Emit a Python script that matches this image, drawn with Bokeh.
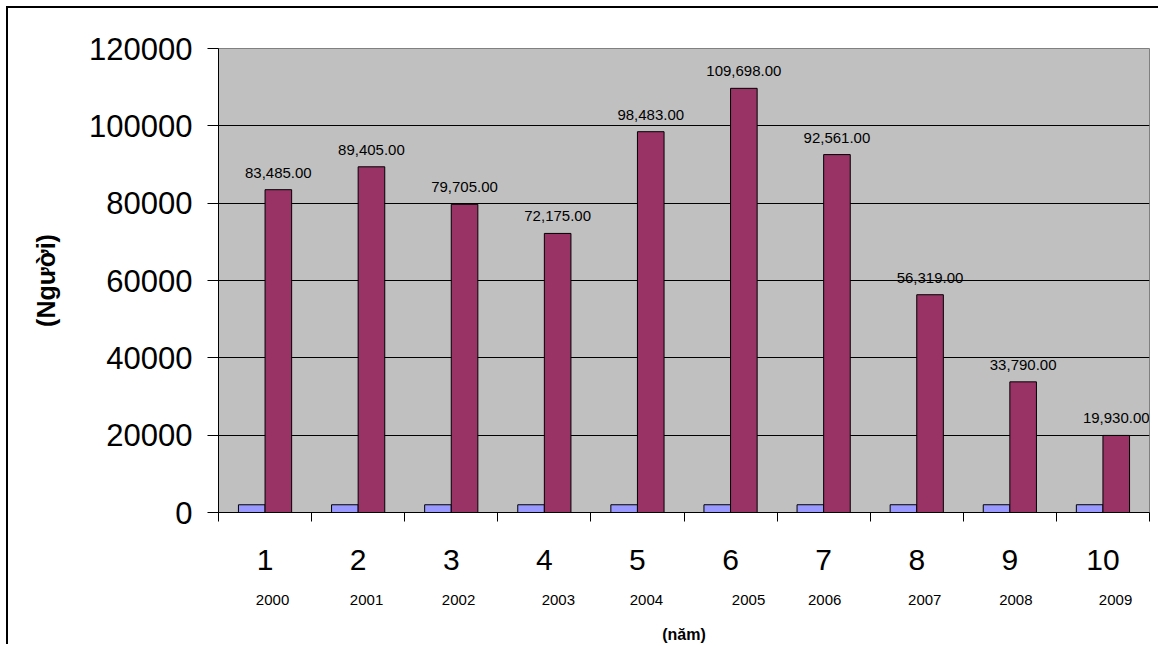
from bokeh.plotting import figure
from bokeh.models import (ColumnDataSource, Range1d, FixedTicker, NumeralTickFormatter,
                          LabelSet, LinearAxis)
from bokeh.core.properties import value
from bokeh.embed import file_html
from bokeh.resources import INLINE

# ---- data ----
categories = [1, 2, 3, 4, 5, 6, 7, 8, 9, 10]
years = [2000, 2001, 2002, 2003, 2004, 2005, 2006, 2007, 2008, 2009]
series_year = years  # first (blue) series: the year values themselves
series_people = [83485, 89405, 79705, 72175, 98483, 109698, 92561, 56319, 33790, 19930]
y_ticks = [0, 20000, 40000, 60000, 80000, 100000, 120000]

# ---- layout / style (not data) ----
year_label_dx = [7.5, 8.4, 7.3, 14, 9, 18, 1, 8, 6, 12.6]   # px shift of year texts
FONT = "Liberation Sans"
FRAME_W = 931  # px width of plot area
PX_PER_CAT = FRAME_W / len(categories)

bar_w = 1 / 3.5
src = ColumnDataSource(dict(
    x_blue=[c - bar_w / 2 for c in categories],
    x_red=[c + bar_w / 2 for c in categories],
    blue=series_year,
    red=series_people,
    red_txt=["{:,.2f}".format(v) for v in series_people],
))

p = figure(width=1152, height=638,
           x_range=Range1d(0.5, 10.5), y_range=Range1d(0, y_ticks[-1]),
           output_backend="svg", toolbar_location=None,
           min_border_left=210, min_border_right=11,
           min_border_top=40, min_border_bottom=134)
p.styles = {"border-left": "2px solid black", "border-top": "2px solid black",
            "margin-left": "6px", "margin-top": "6px"}

p.background_fill_color = "#C0C0C0"
p.outline_line_color = "#808080"
p.outline_line_width = 1
p.border_fill_color = "white"

p.vbar(x="x_blue", top="blue", width=bar_w, source=src,
       fill_color="#9999FF", line_color="black", line_width=1)
p.vbar(x="x_red", top="red", width=bar_w, source=src,
       fill_color="#993366", line_color="black", line_width=1)

# grid
p.xgrid.visible = False
p.ygrid.ticker = FixedTicker(ticks=y_ticks[1:-1])
p.ygrid.grid_line_color = "black"
p.ygrid.grid_line_width = 1

# y axis
ya = p.yaxis[0]
ya.ticker = FixedTicker(ticks=y_ticks)
ya.formatter = NumeralTickFormatter(format="0")
ya.major_label_text_font = FONT
ya.major_label_text_font_size = "31px"
ya.major_label_text_color = "black"
ya.major_tick_out = 11
ya.major_tick_in = 0
ya.minor_tick_line_color = None
ya.axis_line_color = "black"
ya.major_tick_line_color = "black"
ya.major_label_standoff = 15
ya.axis_label = "(Người)"
ya.axis_label_text_font = FONT
ya.axis_label_text_font_size = "25px"
ya.axis_label_text_font_style = "bold"
ya.axis_label_text_color = "black"
ya.axis_label_standoff = 26

# x axis: category numbers, ticks at category boundaries
xa = p.xaxis[0]
xa.ticker = FixedTicker(ticks=categories,
                        minor_ticks=[c - 0.5 for c in categories] + [categories[-1] + 0.5])
xa.major_tick_out = 0
xa.major_tick_in = 0
xa.minor_tick_out = 9
xa.minor_tick_in = 0
xa.minor_tick_line_color = "black"
xa.axis_line_color = "black"
xa.major_label_text_font = FONT
xa.major_label_text_font_size = "30px"
xa.major_label_text_color = "black"
xa.major_label_standoff = 28

# second x axis: year texts and the axis title
year_pos = [c + d / PX_PER_CAT for c, d in zip(categories, year_label_dx)]
xa2 = LinearAxis(ticker=FixedTicker(ticks=year_pos),
                 major_label_overrides={t: str(y) for t, y in zip(year_pos, years)})
xa2.axis_line_color = None
xa2.major_tick_line_color = None
xa2.minor_tick_line_color = None
xa2.major_tick_out = 0
xa2.major_tick_in = 0
xa2.major_label_text_font = FONT
xa2.major_label_text_font_size = "15px"
xa2.major_label_text_color = "black"
xa2.major_label_standoff = 22
xa2.axis_label = "(năm)"
xa2.axis_label_text_font = FONT
xa2.axis_label_text_font_size = "16px"
xa2.axis_label_text_font_style = "bold"
xa2.axis_label_text_color = "black"
xa2.axis_label_standoff = 18
p.add_layout(xa2, "below")

# data labels
p.add_layout(LabelSet(x="x_red", y="red", text="red_txt", source=src,
                      text_font=value(FONT), text_font_size="15px", text_color="black",
                      text_align="center", text_baseline="alphabetic", y_offset=12))

open("out.html", "w").write(file_html(p, INLINE))
